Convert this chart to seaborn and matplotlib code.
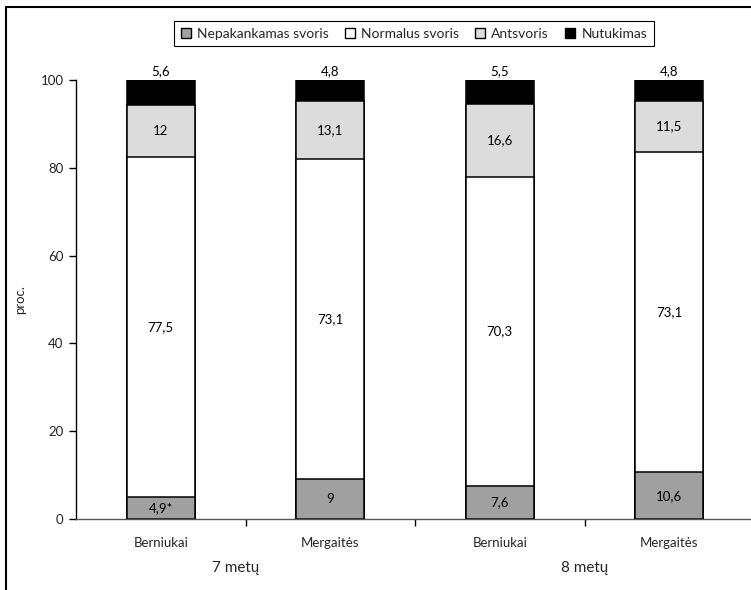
import numpy as np
import pandas as pd
import matplotlib
matplotlib.use("Agg")
import matplotlib.pyplot as plt
from matplotlib.lines import Line2D
from matplotlib.patches import Patch
import seaborn as sns

groups = ["Berniukai", "Mergaitės", "Berniukai", "Mergaitės"]
ages = ["7 metų", "8 metų"]
series = ["Nepakankamas svoris", "Normalus svoris", "Antsvoris", "Nutukimas"]
nepakankamas = [4.9, 9.0, 7.6, 10.6]
normalus = [77.5, 73.1, 70.3, 73.1]
antsvoris = [12.0, 13.1, 16.6, 11.5]
nutukimas = [5.6, 4.8, 5.5, 4.8]
value_labels = [
    ["4,9*", "9", "7,6", "10,6"],
    ["77,5", "73,1", "70,3", "73,1"],
    ["12", "13,1", "16,6", "11,5"],
    ["5,6", "4,8", "5,5", "4,8"],
]
yticks = [0, 20, 40, 60, 80, 100]

colors = ["#a0a0a0", "#ffffff", "#dcdcdc", "#000000"]

sns.set_theme(style="white")
plt.rcParams["font.family"] = ["Lato", "DejaVu Sans"]

fig = plt.figure(figsize=(7.51, 5.90), dpi=100)
ax = fig.add_axes([76 / 751, 1 - 519 / 590, 678 / 751, 439 / 590])

layers = np.array([nepakankamas, normalus, antsvoris, nutukimas])
cum = np.cumsum(layers, axis=0)
pos = list(range(len(groups)))

# stacked bars: draw cumulative totals from the top layer down
for i in reversed(range(len(series))):
    df = pd.DataFrame({"x": pos, "y": cum[i]})
    sns.barplot(data=df, x="x", y="y", order=pos, color=colors[i],
                saturation=1, width=0.4, edgecolor="black", linewidth=1.1,
                ax=ax, native_scale=True)

# segment value labels
for i in range(len(series)):
    for j in pos:
        if i == len(series) - 1:
            y = cum[i][j] + 2.0
        else:
            y = cum[i][j] - layers[i][j] / 2
        ax.text(j, y, value_labels[i][j], ha="center", va="center",
                fontsize=9.5, color="black")

ax.set_xlim(-0.5, 3.5)
ax.set_ylim(0, 100)
ax.set_yticks(yticks)
ax.set_yticklabels([str(t) for t in yticks], fontsize=9.5)
ax.set_xticks([0.5, 1.5, 2.5])
ax.set_xticklabels([])
ax.tick_params(axis="both", direction="out", length=5, width=1, color="black",
               bottom=True, left=True, pad=4)
ax.set_xlabel("")
ax.set_ylabel("proc.", fontsize=9.5, labelpad=10)
for s in ["top", "right"]:
    ax.spines[s].set_visible(False)
ax.spines["left"].set_color("black")
ax.spines["bottom"].set_color("#555555")
ax.spines["left"].set_linewidth(1)
ax.spines["bottom"].set_linewidth(1)

# category and age labels
trans = ax.get_xaxis_transform()
for j, g in enumerate(groups):
    ax.text(j, -0.04, g, transform=trans, ha="center", va="top", fontsize=9.5)
for x, a in zip([0.44, 2.5], ages):
    ax.text(x, -0.095, a, transform=trans, ha="center", va="top", fontsize=11)

handles = [Patch(facecolor=c, edgecolor="black", linewidth=1) for c in colors]
fig.legend(handles, series, loc="center", ncol=4, mode="expand",
           bbox_to_anchor=(167 / 751, 1 - 49 / 590, 494 / 751, 31 / 590),
           frameon=True, fancybox=False, edgecolor="black", fontsize=10,
           handlelength=0.7, handleheight=0.7, handletextpad=0.45,
           columnspacing=1.0, borderpad=0.5, framealpha=1)
leg = fig.legends[0]
leg.get_frame().set_linewidth(0.8)

# outer frame lines
fig.add_artist(Line2D([6 / 751, 6 / 751], [0, 1 - 7 / 590], color="black",
                      linewidth=1.5, transform=fig.transFigure))
fig.add_artist(Line2D([6 / 751, 1], [1 - 7 / 590, 1 - 7 / 590], color="black",
                      linewidth=1.5, transform=fig.transFigure))

fig.savefig("out.png", dpi=100)
